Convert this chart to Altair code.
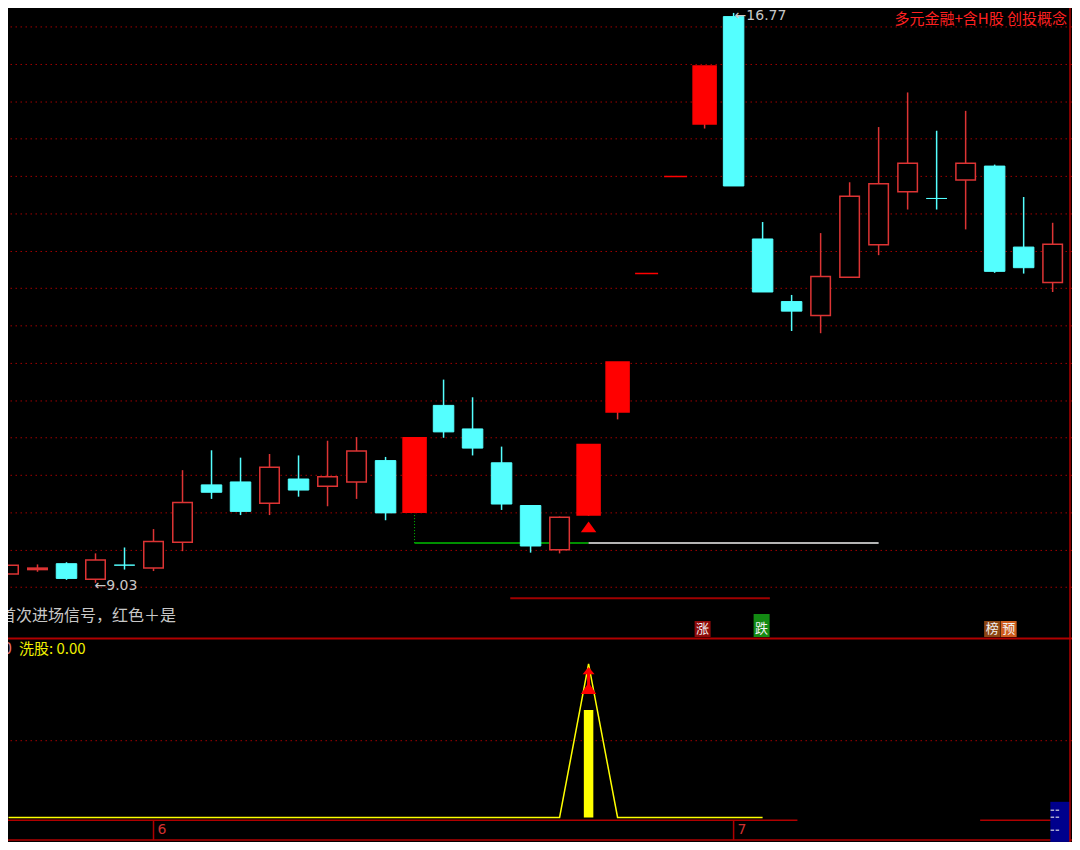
import altair as alt
import pandas as pd

# ---------------- data ----------------
day = list(range(37))
open_p = [9.15, 9.21, 9.29, 9.08, 9.27, 9.23, 9.58, 10.36, 10.40, 10.11,
          10.44, 10.34, 10.40, 10.69, 9.99, 11.44, 11.12, 10.66, 10.08, 9.48,
          9.95, 11.35, 13.23, 14.55, 15.26, 16.72, 13.70, 12.85, 12.66, 13.18,
          13.62, 14.34, 14.25, 14.50, 14.69, 13.59, 13.11]
high_p = [9.27, 9.28, 9.31, 9.43, 9.51, 9.76, 10.56, 10.83, 10.73, 10.78,
          10.76, 10.96, 11.01, 10.74, 11.00, 11.79, 11.55, 10.88, 10.08, 9.93,
          10.91, 12.03, 13.23, 14.55, 16.05, 16.77, 13.93, 12.94, 13.78, 14.47,
          15.22, 15.69, 15.17, 15.44, 14.71, 14.27, 13.92]
low_p = [9.15, 9.18, 9.07, 9.03, 9.21, 9.19, 9.46, 10.17, 9.95, 9.95,
         10.20, 10.07, 10.17, 9.88, 9.99, 11.00, 10.76, 10.02, 9.44, 9.43,
         9.94, 11.25, 13.23, 14.55, 15.20, 14.42, 12.98, 12.45, 12.42, 13.18,
         13.48, 14.10, 14.10, 13.83, 13.24, 13.23, 12.98]
close_p = [9.27, 9.23, 9.09, 9.34, 9.27, 9.59, 10.12, 10.26, 10.00, 10.60,
           10.29, 10.47, 10.82, 9.98, 11.00, 11.08, 10.86, 10.10, 9.53, 9.92,
           10.91, 12.03, 13.23, 14.55, 16.05, 14.42, 12.98, 12.72, 13.19, 14.28,
           14.45, 14.73, 14.25, 14.73, 13.26, 13.31, 13.63]
signal_days = [14, 20, 21, 22, 23, 24]

grid_prices = [16.58, 16.07, 15.56, 15.06, 14.55, 14.04, 13.53, 13.03,
               12.52, 12.01, 11.50, 11.00, 10.49, 9.98, 9.47, 8.97]

support_level = 9.57
support_start, support_switch, support_end = 14, 20, 30
band_level, band_from, band_to = 8.82, 17.3, 26.25
entry_day, entry_price = 20, 9.79

badge_days = [24, 26, 34, 34]
badge_texts = ["涨", "跌", "榜", "预"]

wash_days = list(range(27))
wash_values = [0, 0, 0, 0, 0, 0, 0, 0, 0, 0,
               0, 0, 0, 0, 0, 0, 0, 0, 0, 0,
               100, 0, 0, 0, 0, 0, 0]
wash_bar_day, wash_bar_value = 20, 70
arrow_day, arrow_low, arrow_high = 20, 84.2, 95.6
wash_grid = 50

month_days = [5, 25]
month_labels = ["6", "7"]

title_text = "多元金融+含H股 创投概念"
caption_text = "首次进场信号，红色＋是"

# ---------------- styling / layout ----------------
RED_H = "#DD3434"
RED_F = "#FF0000"
CYAN = "#54FFFF"
GRID = "#A00000"
FRAME = "#B00000"
CJK = "Noto Sans CJK SC"

W, H = 1064, 834
H_MAIN = 631                     # price pane height; indicator pane below it
ys = alt.Scale(domain=[5.510, 16.837], nice=False, zero=False, padding=0)
vs = alt.Scale(domain=[-15.96, 527.07], nice=False, zero=False, padding=0)
xs = alt.Scale(domain=[-0.017, 36.667], nice=False, zero=False, padding=0)


def X(f):
    return alt.X(f"{f}:Q", scale=xs, axis=None)


def Y(f):
    return alt.Y(f"{f}:Q", scale=ys, axis=None)


def V(f):
    return alt.Y(f"{f}:Q", scale=vs, axis=None)


def box_path(dx, w, h, dy=0.0, unit=32.0):
    """Rectangle symbol path (unit px per path unit), offset by dx/dy px."""
    x0, x1 = (dx - w / 2) / unit, (dx + w / 2) / unit
    y0, y1 = (dy - h / 2) / unit, (dy + h / 2) / unit
    return f"M{x0:.4f},{y0:.4f}L{x1:.4f},{y0:.4f}L{x1:.4f},{y1:.4f}L{x0:.4f},{y1:.4f}Z"


def one():
    return pd.DataFrame({"k": [0]})


df = pd.DataFrame({"day": day, "open": open_p, "high": high_p,
                   "low": low_p, "close": close_p})
prev = df["close"].shift(1).fillna(df["open"])
up = (df["close"] > df["open"]) | ((df["close"] == df["open"]) & (df["close"] >= prev))
df["dir"] = ["up" if u else "down" for u in up]
df["kind"] = [("filled" if d in signal_days else "hollow") if u else "down"
              for d, u in zip(day, up)]

# ---------------- price pane ----------------
grid = alt.Chart(pd.DataFrame({"p": grid_prices})).mark_rule(
    color=GRID, strokeDash=[1.5, 3.5], strokeWidth=1
).encode(y=Y("p"))

band = alt.Chart(pd.DataFrame({"a": [band_from], "b": [band_to], "p": [band_level]})).mark_rule(
    color="#A00000", strokeWidth=2
).encode(x=X("a"), x2="b:Q", y=Y("p"))

sup_v = alt.Chart(pd.DataFrame({"d": [support_start],
                                "p1": [df.loc[support_start, "open"]],
                                "p2": [support_level]})).mark_rule(
    color="#00C000", strokeDash=[1, 2], strokeWidth=1
).encode(x=X("d"), y=Y("p1"), y2="p2:Q")
sup_g = alt.Chart(pd.DataFrame({"a": [support_start], "b": [support_switch], "p": [support_level]})).mark_rule(
    color="#00C000", strokeWidth=1.5
).encode(x=X("a"), x2="b:Q", y=Y("p"))
sup_w = alt.Chart(pd.DataFrame({"a": [support_switch], "b": [support_end], "p": [support_level]})).mark_rule(
    color="#F0F0F0", strokeWidth=1.5
).encode(x=X("a"), x2="b:Q", y=Y("p"))

wicks = alt.Chart(df).mark_rule(strokeWidth=1.5).encode(
    x=X("day"), y=Y("low"), y2="high:Q",
    color=alt.Color("dir:N", scale=alt.Scale(domain=["up", "down"], range=[RED_H, CYAN]), legend=None),
)
hollow = alt.Chart(df[df["kind"] == "hollow"]).mark_bar(
    size=19.5, fill="black", stroke=RED_H, strokeWidth=1.5, orient="vertical"
).encode(x=X("day"), y=Y("open"), y2="close:Q")
filled = alt.Chart(df[df["kind"] == "filled"]).mark_bar(
    size=23, fill=RED_F, stroke=RED_F, strokeWidth=1.5, orient="vertical"
).encode(x=X("day"), y=Y("open"), y2="close:Q")
down = alt.Chart(df[df["kind"] == "down"]).mark_bar(
    size=20.5, fill=CYAN, stroke=CYAN, strokeWidth=1, orient="vertical"
).encode(x=X("day"), y=Y("open"), y2="close:Q")

entry = alt.Chart(pd.DataFrame({"d": [entry_day], "p": [entry_price]})).mark_point(
    shape="M0,-0.7L1,0.7L-1,0.7Z", filled=True, color=RED_F, opacity=1, size=240
).encode(x=X("d"), y=Y("p"))

hi_i = int(df["high"].idxmax())
lo_i = int(df["low"].idxmin())
hi_lab = alt.Chart(pd.DataFrame({"d": [hi_i], "p": [df.loc[hi_i, "high"]],
                                 "t": ["←" + f"{df.loc[hi_i, 'high']:.2f}"]})).mark_text(
    align="left", baseline="middle", dx=1, dy=3, fontSize=14, font="DejaVu Sans",
    color="#C8C8C8"
).encode(x=X("d"), y=Y("p"), text="t:N")
lo_lab = alt.Chart(pd.DataFrame({"d": [lo_i], "p": [df.loc[lo_i, "low"]],
                                 "t": ["←" + f"{df.loc[lo_i, 'low']:.2f}"]})).mark_text(
    align="left", baseline="middle", dx=-1, dy=3, fontSize=14, font="DejaVu Sans",
    color="#C8C8C8"
).encode(x=X("d"), y=Y("p"), text="t:N")

title = alt.Chart(pd.DataFrame({"t": [title_text]})).mark_text(
    align="right", baseline="middle", fontSize=15, font=CJK, color="#FF2020"
).encode(x=alt.value(1059), y=alt.value(11), text="t:N")

caption = alt.Chart(pd.DataFrame({"t": [caption_text]})).mark_text(
    align="left", baseline="middle", fontSize=16, font=CJK, color="#C8C8C8"
).encode(x=alt.value(-8), y=alt.value(608), text="t:N")

badge_colors = ["#8E0A0A", "#138A13", "#8B4513", "#CF5E1E"]
badge_dx = [-2, -1, -2.5, 14]
badge_h = [16, 23, 16, 16]
badge_dy = [0, -3.5, 0, 0]
badge_layers = []
for d, t, c, dx, h, dy in zip(badge_days, badge_texts, badge_colors, badge_dx, badge_h, badge_dy):
    bdf = pd.DataFrame({"d": [d], "t": [t]})
    sq = alt.Chart(bdf).mark_point(
        shape=box_path(dx, 16, h, dy), filled=True, opacity=1, color=c, size=4096, strokeWidth=0
    ).encode(x=X("d"), y=alt.value(621))
    tx = alt.Chart(bdf).mark_text(
        fontSize=13, font=CJK, color="#F2F2F2", baseline="middle", dx=dx
    ).encode(x=X("d"), y=alt.value(621), text="t:N")
    badge_layers += [sq, tx]

sep_main = alt.Chart(one()).mark_rule(color=FRAME, strokeWidth=2).encode(
    x=alt.value(0), x2=alt.value(W), y=alt.value(630.5))
right_frame = alt.Chart(one()).mark_rule(color=FRAME, strokeWidth=1.5).encode(
    x=alt.value(1062), y=alt.value(0), y2=alt.value(H))

# ---------------- indicator (洗股) pane ----------------
wgrid = alt.Chart(pd.DataFrame({"v": [wash_grid]})).mark_rule(
    color=GRID, strokeDash=[1.5, 3.5], strokeWidth=1
).encode(y=V("v"))

wdf = pd.DataFrame({"d": wash_days, "v": wash_values})
wline = alt.Chart(wdf).mark_line(color="#FFFF00", strokeWidth=1.5).encode(x=X("d"), y=V("v"))
wbar = alt.Chart(pd.DataFrame({"d": [wash_bar_day], "v": [wash_bar_value], "b": [0]})).mark_bar(
    size=9.5, color="#FFFF00", orient="vertical"
).encode(x=X("d"), y=V("v"), y2="b:Q")

adf = pd.DataFrame({"d": [arrow_day], "lo": [arrow_low], "hi": [arrow_high]})
shaft = alt.Chart(adf).mark_rule(color=RED_F, strokeWidth=3).encode(x=X("d"), y=V("lo"), y2="hi:Q")
head_hi = alt.Chart(adf).mark_point(
    shape="M0,-0.6L1,0.6L-1,0.6Z", filled=True, color=RED_F, opacity=1, size=144
).encode(x=X("d"), y=V("hi"))
head_lo = alt.Chart(adf).mark_point(
    shape="M0,-0.75L1,0.75L-1,0.75Z", filled=True, color=RED_F, opacity=1, size=237
).encode(x=X("d"), y=V("lo"))

wlabel0 = alt.Chart(pd.DataFrame({"t": ["0"]})).mark_text(
    align="right", baseline="middle", fontSize=15, font="DejaVu Sans", color="#E07070"
).encode(x=alt.value(4), y=alt.value(H_MAIN + 10), text="t:N")
wlabel = alt.Chart(pd.DataFrame({"t": ["洗股: " + f"{0:.2f}"]})).mark_text(
    align="left", baseline="middle", fontSize=15, font=CJK, color="#F0F000"
).encode(x=alt.value(11), y=alt.value(H_MAIN + 10), text="t:N")

strip_top = alt.Chart(pd.DataFrame({"a": [-0.02, 33.5], "b": [27.2, 36.6], "v": [-1.72, -1.72]})).mark_rule(
    color=FRAME, strokeWidth=1.5
).encode(x=X("a"), x2="b:Q", y=V("v"))
strip_bot = alt.Chart(pd.DataFrame({"v": [-14.7]})).mark_rule(color=FRAME, strokeWidth=1.5).encode(y=V("v"))

mdf = pd.DataFrame({"d": month_days, "t": month_labels, "a": [-1.72] * 2, "b": [-14.7] * 2, "m": [-8.3] * 2})
msep = alt.Chart(mdf).mark_rule(color=FRAME, strokeWidth=1.5).encode(x=X("d"), y=V("a"), y2="b:Q")
mlab = alt.Chart(mdf).mark_text(
    align="left", baseline="middle", dx=4, fontSize=14, font="DejaVu Sans", color="#D03030"
).encode(x=X("d"), y=V("m"), text="t:N")

widget = alt.Chart(pd.DataFrame({"a": [35.92], "b": [36.6], "v1": [10.2], "v2": [-15.9]})).mark_rect(
    color="#00008C"
).encode(x=X("a"), x2="b:Q", y=V("v1"), y2="v2:Q")
widget_marks = alt.Chart(pd.DataFrame({"a": [35.93] * 3, "b": [36.23] * 3, "v": [4.66, 0.19, -8.3]})).mark_rule(
    color="#A8A8D0", strokeWidth=1.5, strokeDash=[3.5, 1.5]
).encode(x=X("a"), x2="b:Q", y=V("v"))

chart = alt.layer(
    grid, band, sup_v, sup_g, sup_w, wicks, hollow, down, filled, entry,
    hi_lab, lo_lab, title, caption, *badge_layers, sep_main,
    wgrid, wline, wbar, shaft, head_hi, head_lo, wlabel0, wlabel,
    strip_top, strip_bot, msep, mlab, widget, widget_marks, right_frame
).resolve_scale(y="independent").properties(
    width=W, height=H, background="black", padding=0,
    autosize=alt.AutoSizeParams(type="none"),
).configure_view(stroke=None)

chart.save("out.html", embed_options={"renderer": "svg", "actions": False})
